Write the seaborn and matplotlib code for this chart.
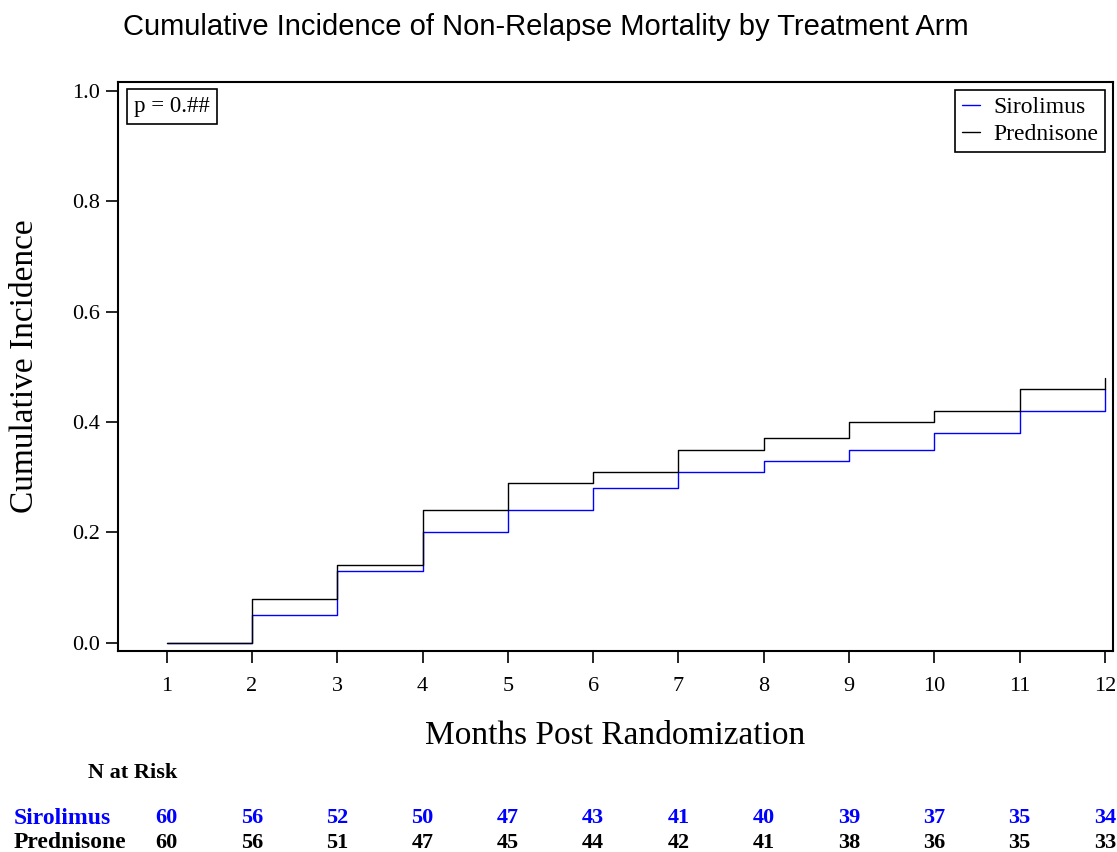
import numpy as np
import pandas as pd
import matplotlib
matplotlib.use("Agg")
import matplotlib.pyplot as plt
import matplotlib.transforms as mtransforms
import seaborn as sns

# Monthly cumulative incidence estimates by arm
months = [1, 2, 3, 4, 5, 6, 7, 8, 9, 10, 11, 12]
sirolimus_ci = [0.00, 0.05, 0.13, 0.20, 0.24, 0.28, 0.31, 0.33, 0.35, 0.38, 0.42, 0.46]
prednisone_ci = [0.00, 0.08, 0.14, 0.24, 0.29, 0.31, 0.35, 0.37, 0.40, 0.42, 0.46, 0.48]

# Number at risk at each month
sirolimus_risk = [60, 56, 52, 50, 47, 43, 41, 40, 39, 37, 35, 34]
prednisone_risk = [60, 56, 51, 47, 45, 44, 42, 41, 38, 36, 35, 33]

arms = ["Sirolimus", "Prednisone"]
arm_colors = {"Sirolimus": "#0000ff", "Prednisone": "#000000"}

df = pd.DataFrame({
    "month": months * 2,
    "ci": sirolimus_ci + prednisone_ci,
    "arm": ["Sirolimus"] * len(months) + ["Prednisone"] * len(months),
})

sns.set_theme(style="white")
plt.rcParams["font.family"] = ["Liberation Serif", "DejaVu Serif"]
plt.rcParams["text.color"] = "black"
plt.rcParams["axes.labelcolor"] = "black"

W, H = 1117, 852
fig = plt.figure(figsize=(W / 100, H / 100), dpi=100)
left, right, top, bottom = 118.3, 1113, 82, 651
ax = fig.add_axes([left / W, 1 - bottom / H, (right - left) / W, (bottom - top) / H])

sns.lineplot(data=df, x="month", y="ci", hue="arm", hue_order=arms,
             palette=arm_colors, drawstyle="steps-post", linewidth=1.0,
             ax=ax, legend=True)

ax.set_xlim(0.433, 12.094)
ax.set_ylim(-0.015, 1.0158)
ax.set_xticks(months)
ax.set_yticks([0.0, 0.2, 0.4, 0.6, 0.8, 1.0])
ax.set_yticklabels(["0.0", "0.2", "0.4", "0.6", "0.8", "1.0"])
ax.tick_params(axis="both", direction="out", length=8.5, width=1.2,
               labelsize=16, colors="black", bottom=True, left=True, pad=5)
ax.tick_params(axis="x", pad=10)
for sp in ax.spines.values():
    sp.set_visible(True)
    sp.set_color("black")
    sp.set_linewidth(1.5)

ax.set_xlabel("Months Post Randomization", fontsize=24, va="center")
ax.xaxis.set_label_coords(0.499, (bottom - 736) / (bottom - top))
ax.set_ylabel("Cumulative Incidence", fontsize=24, va="center")
ax.yaxis.set_label_coords((25 - left) / (right - left), 0.5)

leg = ax.legend(loc="upper right", fontsize=17, frameon=True, fancybox=False,
                framealpha=1.0, edgecolor="black", handlelength=0.75,
                handletextpad=0.55, borderpad=0.3, labelspacing=0.22,
                borderaxespad=0.33, title=None)
leg.get_frame().set_linewidth(1.2)
for line in leg.get_lines():
    line.set_linewidth(1.0)

ax.text((134 - left) / (right - left), (bottom - 96) / (bottom - top), "p = 0.##",
        transform=ax.transAxes, fontsize=16.5, ha="left", va="top",
        bbox=dict(boxstyle="square,pad=0.3", facecolor="white",
                  edgecolor="black", linewidth=1.2))

fig.text(546 / W, 1 - 27 / H, "Cumulative Incidence of Non-Relapse Mortality by Treatment Arm",
         ha="center", va="center", fontsize=21, color="black",
         family=["Liberation Sans", "DejaVu Sans"])

# Number-at-risk table beneath the axes
trans = mtransforms.blended_transform_factory(ax.transData, fig.transFigure)
fig.text(88 / W, 1 - 773 / H, "N at Risk", ha="left", va="center",
         fontsize=16, fontweight="bold")
rows = [("Sirolimus", sirolimus_risk, "#0000ff", 818),
        ("Prednisone", prednisone_risk, "#000000", 843)]
for name, counts, color, ypix in rows:
    fig.text(14 / W, 1 - ypix / H, name, ha="left", va="center",
             fontsize=17, fontweight="bold", color=color)
    for m, n in zip(months, counts):
        ax.text(m, 1 - ypix / H, str(n), transform=trans, ha="center",
                va="center", fontsize=16, fontweight="bold", color=color,
                clip_on=False)

fig.savefig("out.png", dpi=100, facecolor="white")
